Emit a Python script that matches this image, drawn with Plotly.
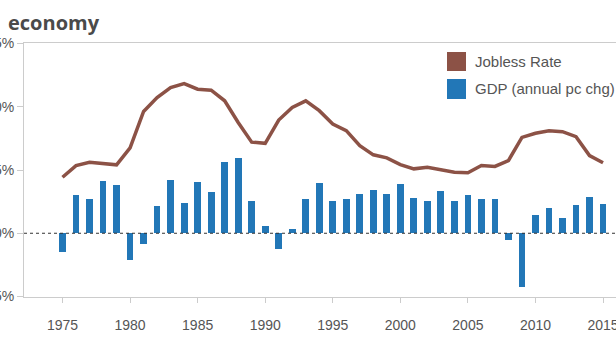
import plotly.graph_objects as go

years = list(range(1975, 2016))
jobless_rate = [4.43, 5.35, 5.61, 5.54, 5.41, 6.75, 9.63, 10.73, 11.52, 11.83,
                11.39, 11.31, 10.47, 8.76, 7.20, 7.11, 8.95, 9.94, 10.47, 9.69,
                8.64, 8.11, 6.93, 6.20, 5.96, 5.43, 5.09, 5.22, 5.02, 4.83,
                4.78, 5.35, 5.28, 5.75, 7.58, 7.90, 8.11, 8.03, 7.64, 6.14, 5.57]
gdp_growth = [-1.50, 3.02, 2.68, 4.12, 3.78, -2.15, -0.84, 2.15, 4.20, 2.36,
              4.09, 3.23, 5.64, 5.98, 2.54, 0.58, -1.26, 0.34, 2.68, 3.96,
              2.54, 2.68, 3.10, 3.44, 3.10, 3.86, 2.78, 2.54, 3.33, 2.54,
              2.99, 2.68, 2.68, -0.52, -4.25, 1.44, 2.02, 1.23, 2.23, 2.89, 2.34]
y_tickvals = [15, 10, 5, 0, -5]
y_ticktext = ["15%", "10%", "5%", "0%", "-5%"]
x_tickvals = list(range(1975, 2016, 5))
legend_labels = ["Jobless Rate", "GDP (annual pc chg)"]
title_text = "economy"

LINE_COLOR = "#8c5246"
BAR_COLOR = "#2277b7"
TEXT_COLOR = "#555555"
AXIS_COLOR = "#cccccc"

fig = go.Figure()
fig.add_trace(go.Bar(x=years, y=gdp_growth, marker=dict(color=BAR_COLOR, line=dict(width=0)),
                     width=0.5, showlegend=False, name=legend_labels[1]))
fig.add_trace(go.Scatter(x=years, y=jobless_rate, mode="lines",
                         line=dict(color=LINE_COLOR, width=3.5), showlegend=False,
                         name=legend_labels[0]))

# dotted zero line
fig.add_shape(type="line", xref="paper", yref="y", x0=0, x1=1, y0=0, y1=0,
              line=dict(color="#333333", width=1, dash="dot"), layer="above")

# legend swatches and labels
fig.add_shape(type="rect", xref="paper", yref="paper", x0=0.7145, x1=0.7466, y0=0.8898, y1=0.9646,
              fillcolor=LINE_COLOR, line=dict(width=0))
fig.add_shape(type="rect", xref="paper", yref="paper", x0=0.7145, x1=0.7466, y0=0.7795, y1=0.8583,
              fillcolor=BAR_COLOR, line=dict(width=0))
fig.add_annotation(xref="paper", yref="paper", x=0.7584, y=0.929, text=legend_labels[0],
                   showarrow=False, xanchor="left", yanchor="middle",
                   font=dict(family="Liberation Sans", size=15, color=TEXT_COLOR))
fig.add_annotation(xref="paper", yref="paper", x=0.7584, y=0.819, text=legend_labels[1],
                   showarrow=False, xanchor="left", yanchor="middle",
                   font=dict(family="Liberation Sans", size=15, color=TEXT_COLOR))

# title
fig.add_annotation(xref="paper", yref="paper", x=-0.0304, y=1.0, yshift=21, text="<b>%s</b>" % title_text,
                   showarrow=False, xanchor="left", yanchor="middle",
                   font=dict(family="Open Sans", size=20, color="#4a4a4a"))

fig.update_layout(
    template="none",
    width=616, height=346,
    margin=dict(l=24, r=0, t=43, b=49, pad=0),
    paper_bgcolor="white", plot_bgcolor="white",
    bargap=0,
    font=dict(family="Liberation Sans", size=14, color=TEXT_COLOR),
    xaxis=dict(range=[1972.15, 2015.96], tickvals=x_tickvals, showgrid=False, zeroline=False,
               showline=True, linecolor=AXIS_COLOR, linewidth=1, mirror=True,
               ticks="outside", ticklen=5, tickcolor=AXIS_COLOR, automargin=False,
               ticklabeloverflow="allow", ticklabelstandoff=10,
               tickfont=dict(family="Liberation Sans", size=14, color=TEXT_COLOR)),
    yaxis=dict(range=[-5.04, 15.04], tickvals=y_tickvals, ticktext=y_ticktext,
               showgrid=False, zeroline=False, showline=True, linecolor=AXIS_COLOR, linewidth=1,
               ticks="outside", ticklen=6, tickcolor=AXIS_COLOR, automargin=False,
               ticklabeloverflow="allow", ticklabelstandoff=0,
               tickfont=dict(family="Liberation Sans", size=14, color=TEXT_COLOR)),
)

fig.write_html("out.html")
